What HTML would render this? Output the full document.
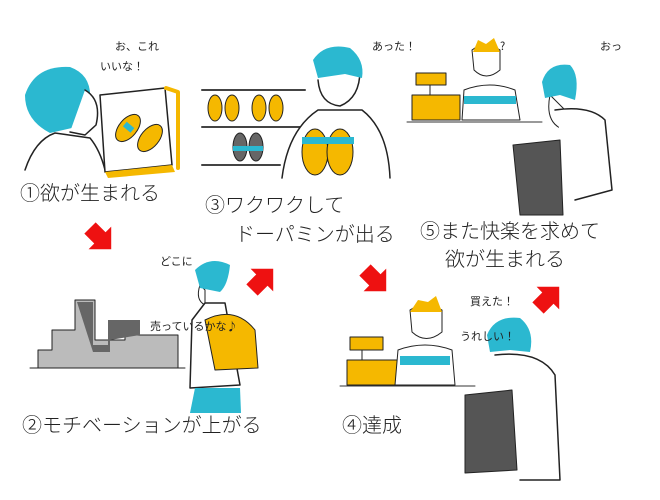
<!DOCTYPE html>
<html><head><meta charset="utf-8"><style>
html,body{margin:0;padding:0;background:#fff;width:660px;height:500px;overflow:hidden}
svg{display:block}
.l{font-family:"Noto Sans CJK JP","WenQuanYi Zen Hei",sans-serif;font-size:20px;fill:#222;font-weight:300}
.s{font-family:"Noto Sans CJK JP",sans-serif;font-size:11px;fill:#222}
</style></head><body>
<svg width="660" height="500" viewBox="0 0 660 500" xmlns="http://www.w3.org/2000/svg" stroke-linecap="round" stroke-linejoin="round">
<!-- Scene 1 -->
<path d="M25,170 Q35,140 55,133 L90,138 Q100,150 105,170" fill="#fff" stroke="#222" stroke-width="1.5"/>
<path d="M25,95 Q35,65 70,67 Q92,75 90,100 L85,125 L50,133 Q25,120 25,95Z" fill="#2bb8d0"/>
<path d="M85,90 Q102,100 96,125 L85,135 L70,132" fill="#fff" stroke="#222" stroke-width="1.5"/>
<path d="M100,95 L165,88 L172,165 L105,172Z" fill="#fff" stroke="#222" stroke-width="1.5"/>
<path d="M105,172 L172,165 L175,172 L108,178Z" fill="#f5b800"/>
<path d="M166,88 L178,92 L178,168" fill="none" stroke="#f5b800" stroke-width="4"/>
<ellipse cx="128" cy="128" rx="9" ry="16" transform="rotate(40 128 128)" fill="#f5b800" stroke="#222"/>
<ellipse cx="150" cy="138" rx="9" ry="16" transform="rotate(40 150 138)" fill="#f5b800" stroke="#222"/>
<rect x="123" y="124" width="10" height="6" fill="#2bb8d0" transform="rotate(40 128 128)"/>
<text class="s" x="115" y="50">お、これ</text><text class="s" x="100" y="70">いいな！</text>
<text class="l" x="20" y="200">①欲が生まれる</text>
<!-- Scene 3 -->
<line x1="202" y1="90" x2="305" y2="90" stroke="#444" stroke-width="2"/>
<line x1="202" y1="127" x2="300" y2="127" stroke="#444" stroke-width="2"/>
<line x1="202" y1="165" x2="280" y2="165" stroke="#444" stroke-width="2"/>
<g stroke="#222" stroke-width="1">
<ellipse cx="215" cy="108" rx="7" ry="13" fill="#f5b800"/><ellipse cx="232" cy="108" rx="7" ry="13" fill="#f5b800"/>
<ellipse cx="259" cy="108" rx="7" ry="13" fill="#f5b800"/><ellipse cx="276" cy="108" rx="7" ry="13" fill="#f5b800"/>
<ellipse cx="240" cy="147" rx="7" ry="14" fill="#666"/><ellipse cx="256" cy="147" rx="7" ry="14" fill="#666"/>
</g>
<rect x="233" y="146" width="30" height="5" fill="#2bb8d0"/>
<path d="M318,80 Q320,104 340,106 Q360,98 360,70" fill="#fff" stroke="#222" stroke-width="1.5"/>
<path d="M313,60 Q325,42 350,48 Q365,60 362,78 L345,74 L318,78Z" fill="#2bb8d0"/>
<path d="M282,178 Q288,130 318,110 L362,110 Q388,130 390,178" fill="#fff" stroke="#222" stroke-width="1.5"/>
<ellipse cx="315" cy="152" rx="13" ry="23" fill="#f5b800" stroke="#222"/>
<ellipse cx="340" cy="152" rx="13" ry="23" fill="#f5b800" stroke="#222"/>
<rect x="302" y="137" width="52" height="7" fill="#2bb8d0"/>
<text class="s" x="372" y="50">あった！</text>
<text class="l" x="205" y="212">③ワクワクして</text>
<text class="l" x="235" y="241">ドーパミンが出る</text>
<!-- Scene 5 -->
<rect x="412" y="95" width="48" height="25" fill="#f5b800" stroke="#222"/>
<rect x="416" y="73" width="30" height="12" fill="#f5b800" stroke="#222"/>
<line x1="430" y1="85" x2="430" y2="95" stroke="#222"/>
<line x1="407" y1="122" x2="542" y2="122" stroke="#333"/>
<path d="M472,50 Q485,40 500,50 L500,70 Q486,82 474,70Z" fill="#fff" stroke="#222"/>
<path d="M473,52 L478,40 L486,44 L494,38 L500,52" fill="#f5b800"/>
<path d="M462,120 L464,90 Q490,80 515,90 L520,120Z" fill="#fff" stroke="#222"/>
<rect x="464" y="96" width="52" height="8" fill="#2bb8d0"/>
<path d="M550,95 Q545,120 560,128 L565,110 Z" fill="#fff" stroke="#222"/>
<path d="M555,110 Q590,105 605,120 L612,190 L575,200" fill="#fff" stroke="#222" stroke-width="1.5"/>
<path d="M542,82 Q548,62 570,65 Q580,75 575,100 L560,95 L545,98Z" fill="#2bb8d0"/>
<path d="M513,145 L560,140 L563,215 L520,215Z" fill="#555" stroke="#222"/>
<text class="s" x="500" y="50">?</text>
<text class="s" x="600" y="50">おっ</text>
<text class="l" x="420" y="238">⑤また快楽を求めて</text>
<text class="l" x="445" y="266">欲が生まれる</text>
<!-- Scene 2 -->
<path d="M38,368 L38,350 L52,350 L52,330 L75,330 L75,300 L95,300 L95,340 L125,340 L125,335 L178,335 L178,368Z" fill="#bbb" stroke="#222"/>
<path d="M77,302 L93,302 L93,345 L108,345 L108,320 L140,320 L140,335 L110,340 L110,352 L93,352" fill="#666"/>
<line x1="30" y1="368" x2="185" y2="368" stroke="#222"/>
<path d="M200,285 Q195,300 205,305 L205,290Z" fill="#fff" stroke="#222"/>
<path d="M195,270 Q210,255 230,265 Q228,285 220,292 L200,288Z" fill="#2bb8d0"/>
<path d="M192,320 L205,303 L225,303 L240,385 L190,388Z" fill="#fff" stroke="#222" stroke-width="1.5"/>
<path d="M205,320 Q235,305 255,330 L258,368 L215,370Z" fill="#f5b800" stroke="#222"/>
<path d="M195,388 L240,388 L241,413 L190,413Z" fill="#2bb8d0"/>
<text class="s" x="160" y="265">どこに</text><text class="s" x="150" y="330">売っているかな♪</text>
<text class="l" x="22" y="432">②モチベーションが上がる</text>
<!-- Scene 4 -->
<rect x="347" y="360" width="53" height="25" fill="#f5b800" stroke="#222"/>
<rect x="350" y="337" width="33" height="13" fill="#f5b800" stroke="#222"/>
<line x1="362" y1="350" x2="362" y2="360" stroke="#222"/>
<line x1="340" y1="386" x2="475" y2="386" stroke="#333"/>
<path d="M410,310 Q425,300 442,310 L442,332 Q426,345 412,332Z" fill="#fff" stroke="#222"/>
<path d="M410,312 L418,300 L428,302 L436,296 L442,312" fill="#f5b800"/>
<path d="M395,385 L398,350 Q425,340 452,350 L455,385Z" fill="#fff" stroke="#222"/>
<rect x="400" y="356" width="50" height="9" fill="#2bb8d0"/>
<path d="M495,355 Q540,350 555,375 L560,480 L520,480" fill="#fff" stroke="#222" stroke-width="1.5"/>
<path d="M487,335 Q495,315 520,318 Q535,330 530,352 L510,350 L490,352Z" fill="#2bb8d0"/>
<path d="M465,395 L512,390 L517,470 L465,473Z" fill="#555" stroke="#222"/>
<text class="s" x="470" y="305">買えた！</text><text class="s" x="460" y="340">うれしい！</text>
<text class="l" x="342" y="432">④達成</text>
<!-- Red arrows -->
<g fill="#ee1111">
<polygon points="0,-8 14,-8 14,-16 30,0 14,16 14,8 0,8" transform="translate(90,228) rotate(45)"/>
<polygon points="0,-8 14,-8 14,-16 30,0 14,16 14,8 0,8" transform="translate(252,290) rotate(-45)"/>
<polygon points="0,-8 14,-8 14,-16 30,0 14,16 14,8 0,8" transform="translate(365,270) rotate(45)"/>
<polygon points="0,-8 14,-8 14,-16 30,0 14,16 14,8 0,8" transform="translate(538,308) rotate(-45)"/>
</g>
</svg>
</body></html>
